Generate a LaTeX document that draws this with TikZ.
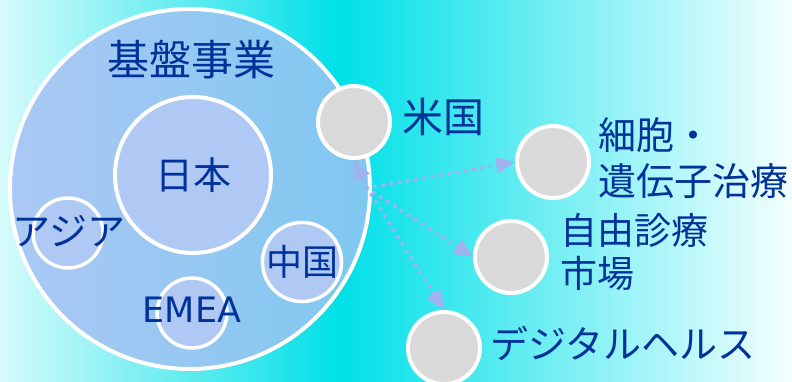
\documentclass[tikz,border=0pt]{standalone}
\usepackage{fontspec}
\setmainfont{Noto Sans CJK JP}
\newfontfamily\latinfont{DejaVu Sans}
\usetikzlibrary{arrows.meta,positioning,shadows}
\definecolor{ink}{RGB}{0,51,153}
\definecolor{bgpale}{RGB}{214,250,250}
\definecolor{bgcyan}{RGB}{0,224,232}
\definecolor{bgwhite}{RGB}{244,255,255}
\definecolor{baseleft}{RGB}{172,200,244}
\definecolor{baseright}{RGB}{126,200,240}
\definecolor{regionfill}{RGB}{176,200,244}
\definecolor{fieldfill}{RGB}{217,217,217}
\definecolor{dotblue}{RGB}{160,178,240}
\tikzset{
%Define standard arrow tip
    >={Triangle[length=19pt,width=16pt]},
%Define style for the big circle
    basecirc/.style={
           circle,
           draw=white, line width=4pt,
           minimum size=360pt,
           inner sep=0pt,
           left color=baseleft, right color=baseright,
           drop shadow={opacity=0.15, shadow xshift=2pt, shadow yshift=-2pt}},
%Define style for the regions
    regioncirc/.style={
           circle,
           draw=white, line width=3.5pt,
           fill=regionfill,
           minimum size=70pt,
           inner sep=0pt,
           text=ink,
           drop shadow={opacity=0.25, shadow xshift=1.5pt, shadow yshift=-1.5pt}},
%Define style for the new fields
    fieldcirc/.style={
           circle,
           draw=white, line width=4pt,
           fill=fieldfill,
           minimum size=72pt,
           inner sep=0pt,
           drop shadow={opacity=0.25, shadow xshift=1.5pt, shadow yshift=-1.5pt}},
    txt/.style={
           text=ink,
           inner sep=0pt,
           font=\fontsize{37}{46}\selectfont},
% Define arrow style
    pil/.style={
           ->,
           draw=dotblue, fill=dotblue,
           line width=4pt,
           line cap=round,
           dash pattern=on 0pt off 8.3pt}
}
\begin{document}
\begin{tikzpicture}[x=1pt, y=-1pt]
 \useasboundingbox (0,0) rectangle (792,381);
 \shade[left color=bgpale, right color=bgcyan] (0,0) rectangle (340,381);
 \shade[left color=bgcyan, right color=bgwhite] (340,0) rectangle (792,381);
 \node[basecirc] (base) at (190,189) {};
 \node[txt, font=\fontsize{42}{50}\selectfont] (basetitle) at (191,60) {基盤事業};
 \node[regioncirc, minimum size=156pt, line width=4pt, font=\fontsize{38}{46}\selectfont] (japan) at (193,175) {日本};
 \node[regioncirc] (asia) at (68,233) {};
 \node[txt, font=\fontsize{38}{46}\selectfont] (asiatext) at (69,231) {アジア};
 \node[regioncirc] (emea) at (192,313) {};
 \node[txt, font=\latinfont\fontsize{35}{40}\selectfont] (emeatext) at (192,310) {EMEA};
 \node[regioncirc, font=\fontsize{36}{40}\selectfont] (china) at (302,262) {中国};
 \node[fieldcirc] (us) at (354,122) {};
 \node[txt, font=\fontsize{41}{46}\selectfont] (ustext) at (443,117) {米国};
 \node[fieldcirc] (cell) at (553,162) {};
 \node[txt, anchor=west, align=left, font=\fontsize{38}{46}\selectfont] (celltext) at (598,158) {細胞・\\遺伝子治療};
 \node[fieldcirc] (free) at (511,257) {};
 \node[txt, anchor=west, align=left, font=\fontsize{37}{43}\selectfont] (freetext) at (560,252) {自由診療\\市場};
 \node[fieldcirc] (digital) at (444,348) {};
 \node[txt, anchor=west, font=\fontsize{38}{46}\selectfont] (digitaltext) at (490,343) {デジタルヘルス};
 \coordinate (hub) at (367,188);
   \draw[pil] (hub) -- (us.south);
   \draw[pil] (hub) -- (cell.west);
   \draw[pil] (hub) -- (free.west);
   \draw[pil] (hub) -- (digital.north);
\end{tikzpicture}
\end{document}
